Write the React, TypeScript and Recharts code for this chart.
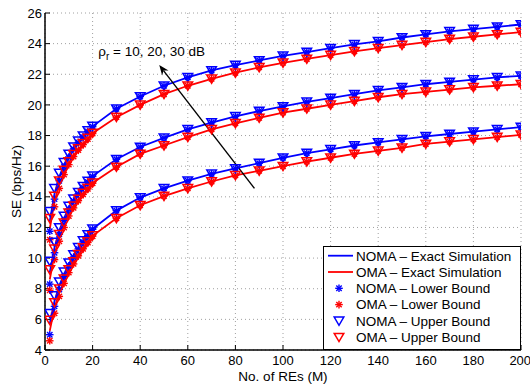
import React from 'react';
import {
  LineChart,
  Line,
  XAxis,
  YAxis,
  CartesianGrid,
  Legend,
  ReferenceLine,
} from 'recharts';

const FONT = '"Liberation Sans", Arial, Helvetica, sans-serif';
const BLUE = '#0000ff';
const RED = '#ff0000';

// number of REs
const M = [2, 4, 6, 8, 10, 12, 14, 16, 18, 20, 30, 40, 50, 60, 70, 80, 90, 100, 110, 120, 130, 140, 150, 160, 170, 180, 190, 200];

// rho_r = 10 dB
const nomaExact10 = [5.7, 7.2, 8.2, 8.95, 9.6, 10.15, 10.65, 11.1, 11.5, 11.9, 13.1, 13.95, 14.55, 15.05, 15.5, 15.85, 16.2, 16.55, 16.85, 17.1, 17.35, 17.55, 17.75, 17.95, 18.1, 18.25, 18.4, 18.55];
const omaExact10 = [5.25, 6.75, 7.75, 8.5, 9.15, 9.7, 10.2, 10.65, 11.05, 11.45, 12.6, 13.45, 14.05, 14.55, 15.0, 15.4, 15.7, 16.0, 16.3, 16.55, 16.8, 17.0, 17.2, 17.45, 17.6, 17.75, 17.9, 18.05];
// bounds meet the exact curve from M = 30 on
const nomaLower10 = [5.0, 6.85, 7.95, 8.8, 9.5, 10.07, 10.6, 11.06, 11.47, 11.88, ...nomaExact10.slice(10)];
const omaLower10 = [4.6, 6.4, 7.5, 8.35, 9.05, 9.62, 10.15, 10.61, 11.02, 11.43, ...omaExact10.slice(10)];
const nomaUpper10 = [6.4, 7.55, 8.45, 9.1, 9.7, 10.23, 10.7, 11.14, 11.53, 11.92, ...nomaExact10.slice(10)];
const omaUpper10 = [5.95, 7.1, 8.0, 8.65, 9.25, 9.78, 10.25, 10.69, 11.08, 11.47, ...omaExact10.slice(10)];

// rho_r = 20 dB
const nomaExact20 = [9.05, 10.7, 11.8, 12.6, 13.3, 13.8, 14.25, 14.65, 15.0, 15.35, 16.45, 17.25, 17.85, 18.4, 18.85, 19.25, 19.6, 19.9, 20.2, 20.45, 20.7, 20.95, 21.15, 21.35, 21.5, 21.65, 21.8, 21.9];
const omaExact20 = [8.6, 10.25, 11.35, 12.15, 12.85, 13.35, 13.8, 14.2, 14.55, 14.9, 15.95, 16.8, 17.35, 17.9, 18.4, 18.8, 19.15, 19.5, 19.75, 20.0, 20.25, 20.5, 20.7, 20.85, 21.0, 21.15, 21.25, 21.35];
const nomaLower20 = [8.3, 10.35, 11.55, 12.45, 13.2, 13.73, 14.2, 14.61, 14.97, 15.33, ...nomaExact20.slice(10)];
const omaLower20 = [7.9, 9.9, 11.1, 12.0, 12.75, 13.28, 13.75, 14.16, 14.52, 14.88, ...omaExact20.slice(10)];
const nomaUpper20 = [9.8, 11.05, 12.0, 12.75, 13.4, 13.87, 14.3, 14.69, 15.03, 15.37, ...nomaExact20.slice(10)];
const omaUpper20 = [9.25, 10.6, 11.55, 12.3, 12.95, 13.42, 13.85, 14.24, 14.58, 14.92, ...omaExact20.slice(10)];

// rho_r = 30 dB
const nomaExact30 = [12.4, 14.2, 15.3, 16.1, 16.7, 17.2, 17.6, 17.95, 18.3, 18.6, 19.75, 20.55, 21.25, 21.8, 22.25, 22.6, 22.9, 23.2, 23.45, 23.7, 23.95, 24.15, 24.4, 24.6, 24.8, 24.95, 25.1, 25.25];
const omaExact30 = [11.9, 13.7, 14.8, 15.6, 16.2, 16.7, 17.1, 17.45, 17.8, 18.15, 19.2, 20.0, 20.7, 21.25, 21.7, 22.1, 22.45, 22.75, 23.0, 23.25, 23.5, 23.7, 23.9, 24.1, 24.3, 24.45, 24.6, 24.75];
const nomaLower30 = [11.75, 13.85, 15.05, 15.95, 16.6, 17.13, 17.55, 17.91, 18.27, 18.58, ...nomaExact30.slice(10)];
const omaLower30 = [11.2, 13.35, 14.55, 15.45, 16.1, 16.63, 17.05, 17.41, 17.77, 18.13, ...omaExact30.slice(10)];
const nomaUpper30 = [13.05, 14.55, 15.55, 16.25, 16.8, 17.27, 17.65, 17.99, 18.33, 18.62, ...nomaExact30.slice(10)];
const omaUpper30 = [12.6, 14.05, 15.05, 15.75, 16.3, 16.77, 17.15, 17.49, 17.83, 18.17, ...omaExact30.slice(10)];

const xTicks = [0, 20, 40, 60, 80, 100, 120, 140, 160, 180, 200];
const yTicks = [4, 6, 8, 10, 12, 14, 16, 18, 20, 22, 24, 26];

const legendItems = [
  { label: 'NOMA \u2013 Exact Simulation', color: BLUE, kind: 'line' },
  { label: 'OMA \u2013 Exact Simulation', color: RED, kind: 'line' },
  { label: 'NOMA \u2013 Lower Bound', color: BLUE, kind: 'star' },
  { label: 'OMA \u2013 Lower Bound', color: RED, kind: 'star' },
  { label: 'NOMA \u2013 Upper Bound', color: BLUE, kind: 'tri' },
  { label: 'OMA \u2013 Upper Bound', color: RED, kind: 'tri' },
];

const data = M.map((m, i) => ({
  M: m,
  ne10: nomaExact10[i], oe10: omaExact10[i], nl10: nomaLower10[i], ol10: omaLower10[i], nu10: nomaUpper10[i], ou10: omaUpper10[i],
  ne20: nomaExact20[i], oe20: omaExact20[i], nl20: nomaLower20[i], ol20: omaLower20[i], nu20: nomaUpper20[i], ou20: omaUpper20[i],
  ne30: nomaExact30[i], oe30: omaExact30[i], nl30: nomaLower30[i], ol30: omaLower30[i], nu30: nomaUpper30[i], ou30: omaUpper30[i],
}));

const Star = ({ cx, cy, color }: any) => {
  const r = 3.8;
  const d = 2.7;
  return (
    <g stroke={color} strokeWidth={1.4}>
      <line x1={cx - r} y1={cy} x2={cx + r} y2={cy} />
      <line x1={cx} y1={cy - r} x2={cx} y2={cy + r} />
      <line x1={cx - d} y1={cy - d} x2={cx + d} y2={cy + d} />
      <line x1={cx - d} y1={cy + d} x2={cx + d} y2={cy - d} />
    </g>
  );
};

const Tri = ({ cx, cy, color }: any) => (
  <polygon
    points={`${cx - 4.8},${cy - 3.8} ${cx + 4.8},${cy - 3.8} ${cx},${cy + 4.4}`}
    fill="none"
    stroke={color}
    strokeWidth={1.5}
  />
);

const starDot = (color: string) => (p: any) =>
  p.cx == null ? <g key={`s${p.index}`} /> : <Star key={`s${p.index}`} cx={p.cx} cy={p.cy} color={color} />;
const triDot = (color: string) => (p: any) =>
  p.cx == null ? <g key={`t${p.index}`} /> : <Tri key={`t${p.index}`} cx={p.cx} cy={p.cy} color={color} />;

const ArrowShape = (p: any) => {
  const { x1, y1, x2, y2 } = p;
  const a = Math.atan2(y2 - y1, x2 - x1);
  const len = 10;
  const w = 4;
  const bx = x2 - len * Math.cos(a);
  const by = y2 - len * Math.sin(a);
  const nx = x2 - 0.7 * len * Math.cos(a);
  const ny = y2 - 0.7 * len * Math.sin(a);
  const px = -Math.sin(a) * w;
  const py = Math.cos(a) * w;
  return (
    <g>
      <line x1={x1} y1={y1} x2={nx} y2={ny} stroke="#000" strokeWidth={1.4} />
      <polygon points={`${x2},${y2} ${bx + px},${by + py} ${nx},${ny} ${bx - px},${by - py}`} fill="#000" />
      <text x={x2 - 61} y={y2 - 9} fontSize={13.5} fontFamily={FONT} fill="#000">
        {'\u03c1'}
        <tspan dy={4} fontSize={10}>r</tspan>
        <tspan dy={-4}>{' = 10, 20, 30 dB'}</tspan>
      </text>
    </g>
  );
};

const renderLegend = () => (
  <svg width={198} height={104} style={{ display: 'block' }}>
    <rect x={0.5} y={0.5} width={197} height={103} fill="#fff" stroke="#000" strokeWidth={1} />
    {legendItems.map((it, i) => {
      const cy = 9.7 + i * 16.3;
      return (
        <g key={it.label}>
          {it.kind === 'line' && <line x1={5} y1={cy} x2={30} y2={cy} stroke={it.color} strokeWidth={1.8} />}
          {it.kind === 'star' && <Star cx={16} cy={cy} color={it.color} />}
          {it.kind === 'tri' && <Tri cx={16} cy={cy} color={it.color} />}
          <text x={33} y={cy + 4.8} fontSize={13.5} fontFamily={FONT} fill="#000">
            {it.label}
          </text>
        </g>
      );
    })}
  </svg>
);

const sets = ['10', '20', '30'];

export default function App() {
  return (
    <div style={{ position: 'absolute', left: 0, top: 0, width: 530, height: 388, background: '#fff' }}>
      <LineChart
        width={530}
        height={388}
        data={data}
        margin={{ top: 13, right: 9, bottom: 0, left: 0 }}
        style={{ fontFamily: FONT }}
      >
        <CartesianGrid strokeDasharray="1 3" stroke="#a0a0a0" strokeWidth={1} />
        <XAxis
          dataKey="M"
          type="number"
          domain={[0, 200]}
          ticks={xTicks}
          allowDataOverflow
          height={38}
          tickSize={-5}
          tickMargin={11}
          axisLine={{ stroke: '#000', strokeWidth: 1.5 }}
          tickLine={{ stroke: '#000' }}
          tick={{ fontSize: 13, fill: '#000', fontFamily: FONT }}
          label={({ viewBox }: any) => (
            <text
              x={viewBox.x + viewBox.width / 2}
              y={381}
              textAnchor="middle"
              fontSize={13.5}
              fontFamily={FONT}
              fill="#000"
            >
              No. of REs (M)
            </text>
          )}
        />
        <XAxis
          xAxisId="top"
          orientation="top"
          dataKey="M"
          type="number"
          domain={[0, 200]}
          ticks={xTicks}
          allowDataOverflow
          height={0}
          tickSize={-5}
          tick={false}
          axisLine={{ stroke: '#000', strokeWidth: 1.5 }}
          tickLine={{ stroke: '#000' }}
        />
        <YAxis
          type="number"
          domain={[4, 26]}
          ticks={yTicks}
          allowDataOverflow
          width={45}
          tickSize={-5}
          tickMargin={8}
          axisLine={{ stroke: '#000', strokeWidth: 1.5 }}
          tickLine={{ stroke: '#000' }}
          tick={{ fontSize: 13, fill: '#000', fontFamily: FONT }}
          label={({ viewBox }: any) => {
            const cx = 16;
            const cy = viewBox.y + viewBox.height / 2;
            return (
              <text
                x={cx}
                y={cy}
                transform={`rotate(-90 ${cx} ${cy})`}
                textAnchor="middle"
                dominantBaseline="central"
                fontSize={13.5}
                fontFamily={FONT}
                fill="#000"
              >
                SE (bps/Hz)
              </text>
            );
          }}
        />
        <YAxis
          yAxisId="right"
          orientation="right"
          type="number"
          domain={[4, 26]}
          ticks={yTicks}
          allowDataOverflow
          width={0}
          tickSize={-5}
          tick={false}
          axisLine={{ stroke: '#000', strokeWidth: 1.5 }}
          tickLine={{ stroke: '#000' }}
        />
        {sets.map((s) => (
          <Line key={`ne${s}`} dataKey={`ne${s}`} stroke={BLUE} strokeWidth={1.8} dot={false} activeDot={false} isAnimationActive={false} />
        ))}
        {sets.map((s) => (
          <Line key={`oe${s}`} dataKey={`oe${s}`} stroke={RED} strokeWidth={1.8} dot={false} activeDot={false} isAnimationActive={false} />
        ))}
        {sets.map((s) => (
          <Line key={`nl${s}`} dataKey={`nl${s}`} stroke="none" dot={starDot(BLUE)} activeDot={false} isAnimationActive={false} />
        ))}
        {sets.map((s) => (
          <Line key={`ol${s}`} dataKey={`ol${s}`} stroke="none" dot={starDot(RED)} activeDot={false} isAnimationActive={false} />
        ))}
        {sets.map((s) => (
          <Line key={`nu${s}`} dataKey={`nu${s}`} stroke="none" dot={triDot(BLUE)} activeDot={false} isAnimationActive={false} />
        ))}
        {sets.map((s) => (
          <Line key={`ou${s}`} dataKey={`ou${s}`} stroke="none" dot={triDot(RED)} activeDot={false} isAnimationActive={false} />
        ))}
        <ReferenceLine
          segment={[{ x: 88, y: 14.55 }, { x: 48, y: 22.6 }]}
          shape={ArrowShape}
        />
        <Legend
          layout="vertical"
          align="center"
          verticalAlign="middle"
          content={renderLegend}
          wrapperStyle={{ position: 'absolute', left: 323, top: 246, width: 198, height: 104 }}
        />
      </LineChart>
    </div>
  );
}
